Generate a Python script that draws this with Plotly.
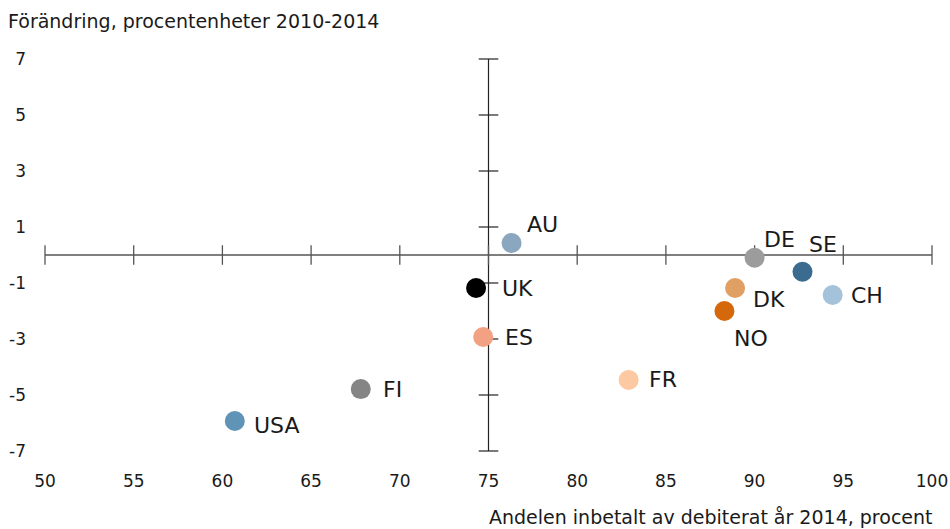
import plotly.graph_objects as go

countries = ["AU", "DE", "SE", "CH", "DK", "NO", "UK", "ES", "FR", "FI", "USA"]
share_2014 = [76.3, 90.0, 92.7, 94.4, 88.9, 88.3, 74.3, 74.7, 82.9, 67.8, 60.7]
change_pp = [0.43, -0.1, -0.6, -1.43, -1.18, -2.0, -1.18, -2.93, -4.46, -4.79, -5.93]
colors = ["#8ba6bf", "#9c9c9c", "#3b6b8f", "#a4c2da", "#e09f63", "#d4680b",
          "#000000", "#f2a283", "#fcc9a2", "#858585", "#6094b6"]
label_dx = [13, 7, 4, 16, 16, 8, 24, 20, 18, 20, 17]
label_dy = [18, 18, 27, 0, -11, -27, 0, 0, 0, 0, -4]

x_ticks = [50, 55, 60, 65, 70, 75, 80, 85, 90, 95, 100]
x_ticklabels = ["50", "55", "60", "65", "70", "75", "80", "85", "90", "95", "100"]
y_ticks = [-7, -5, -3, -1, 1, 3, 5, 7]
y_ticklabels = ["-7", "-5", "-3", "-1", "1", "3", "5", "7"]
x_cross = 75
y_cross = 0

FONT = "DejaVu Sans"
TXT = "#1a1a1a"

fig = go.Figure()

# axis lines crossing at (75, 0)
fig.add_shape(type="line", x0=min(x_ticks), x1=max(x_ticks), y0=y_cross, y1=y_cross,
              xref="x", yref="y", line=dict(color="#555555", width=1.4), layer="below")
fig.add_shape(type="line", x0=x_cross, x1=x_cross, y0=min(y_ticks), y1=max(y_ticks),
              xref="x", yref="y", line=dict(color="#222222", width=1.2), layer="below")

# tick marks on the crossing axes
fig.add_trace(go.Scatter(x=x_ticks, y=[y_cross] * len(x_ticks), mode="markers",
                         marker=dict(symbol="line-ns", size=14,
                                     line=dict(color="#555555", width=1.3)),
                         hoverinfo="skip", showlegend=False, cliponaxis=False))
fig.add_trace(go.Scatter(x=[x_cross] * len(y_ticks), y=y_ticks, mode="markers",
                         marker=dict(symbol="line-ew", size=14,
                                     line=dict(color="#222222", width=1.2)),
                         hoverinfo="skip", showlegend=False, cliponaxis=False))

# data points
fig.add_trace(go.Scatter(x=share_2014, y=change_pp, mode="markers",
                         marker=dict(size=20, color=colors, line=dict(width=0)),
                         text=countries, showlegend=False, cliponaxis=False))

for c, xv, yv, dx, dy in zip(countries, share_2014, change_pp, label_dx, label_dy):
    fig.add_annotation(x=xv, y=yv, text=c, showarrow=False, xanchor="left",
                       yanchor="middle", xshift=dx, yshift=dy,
                       font=dict(family=FONT, size=22, color=TXT))

fig.add_annotation(text="Förändring, procentenheter 2010-2014", xref="paper", yref="paper",
                   x=0, y=1, xanchor="left", yanchor="middle", xshift=-39, yshift=38,
                   showarrow=False, font=dict(family=FONT, size=19, color=TXT))
fig.add_annotation(text="Andelen inbetalt av debiterat år 2014, procent", xref="paper",
                   yref="paper", x=1, y=0, xanchor="right", yanchor="middle",
                   xshift=3, yshift=-66, showarrow=False,
                   font=dict(family=FONT, size=19, color=TXT))

fig.update_layout(
    width=950, height=529,
    margin=dict(l=45, r=18, t=59, b=78, autoexpand=False),
    paper_bgcolor="white", plot_bgcolor="white",
    font=dict(family=FONT, size=17, color=TXT),
    xaxis=dict(range=[50, 100], tickvals=x_ticks, ticktext=x_ticklabels,
               showgrid=False, zeroline=False,
               showline=False, ticks="", ticklabelstandoff=18, automargin=False,
               tickfont=dict(family=FONT, size=17, color=TXT)),
    yaxis=dict(range=[-7, 7], tickvals=y_ticks, ticktext=y_ticklabels,
               showgrid=False, zeroline=False,
               showline=False, ticks="", ticklabelstandoff=18, automargin=False,
               tickfont=dict(family=FONT, size=17, color=TXT)),
)

fig.write_html("out.html", config={"displayModeBar": False},
               post_script="document.body.style.margin='0';document.body.style.overflow='hidden';")
